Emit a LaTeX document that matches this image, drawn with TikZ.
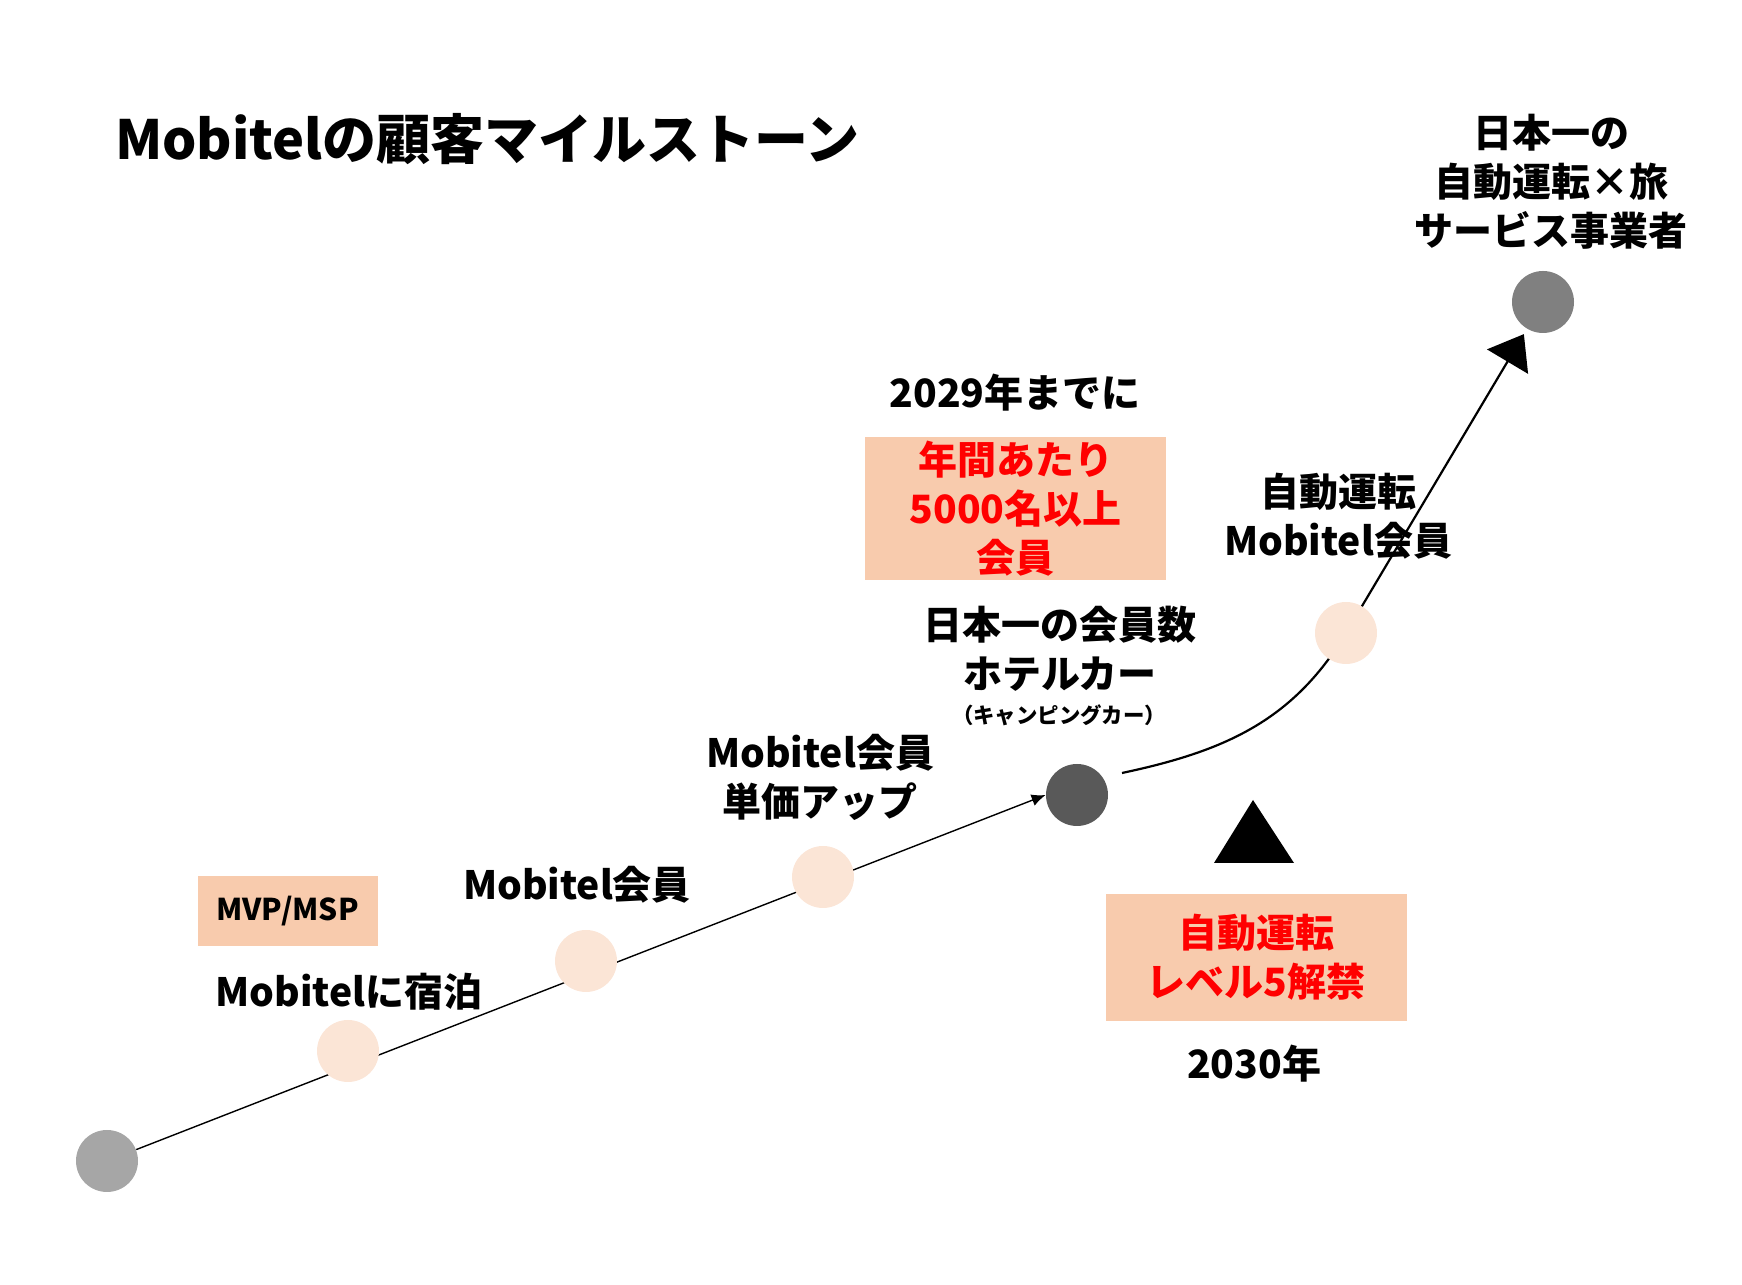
\documentclass[tikz,border=0pt]{standalone}
\usepackage{fontspec}
\setmainfont{Noto Sans CJK JP}
\usetikzlibrary{arrows.meta, calc, backgrounds}

\definecolor{boxpeach}{HTML}{F8CBAD}
\definecolor{dotpeach}{HTML}{FBE5D6}
\definecolor{dotlight}{HTML}{A6A6A6}
\definecolor{dotdark}{HTML}{595959}
\definecolor{dotmid}{HTML}{808080}

\begin{document}
\begin{tikzpicture}[x = 0.5pt, y = 0.5pt, every node/.style = {align = center, font = \bfseries},
	milestone/.style = {circle, draw = none, inner sep = 0pt, minimum size = 31pt},
	milelabel/.style = {font = \bfseries\fontsize{19.5}{24.5}\selectfont},
	goalbox/.style = {fill = boxpeach, text = red, inner sep = 0pt, font = \bfseries\fontsize{19.5}{24.5}\selectfont}]

	\useasboundingbox (0, 0) rectangle (1742, 1285);

	\node (TTL) at (108, 1146) [anchor = west, font = \bfseries\fontsize{27}{33}\selectfont] {Mobitelの顧客マイルストーン};

	% milestones
	\node (M0) at ( 107,  124) [milestone, fill = dotlight] {};
	\foreach \name/\px/\py in {M1/348/234, M2/586/324, M3/823/408, M5/1346/652}
		\node (\name) at (\px, \py) [milestone, fill = dotpeach] {};
	\node (M4) at (1077,  490) [milestone, fill = dotdark] {};
	\node (M6) at (1543,  983) [milestone, fill = dotmid] {};

	\node (L1)  at ( 349,  293) [milelabel] {Mobitelに宿泊};
	\node (L2)  at ( 577,  400) [milelabel] {Mobitel会員};
	\node (L3)  at ( 820,  508) [milelabel] {Mobitel会員\\単価アップ};
	\node (L4)  at (1060,  636) [milelabel] {日本一の会員数\\ホテルカー};
	\node (L4s) at (1059,  570) [font = \bfseries\fontsize{10.7}{13}\selectfont] {（キャンピングカー）};
	\node (L5)  at (1338,  769) [milelabel] {自動運転\\Mobitel会員};
	\node (L6)  at (1551, 1103) [milelabel] {日本一の\\自動運転×旅\\サービス事業者};
	\node (Y29) at (1015,  892) [milelabel] {2029年までに};
	\node (Y30) at (1254,  221) [milelabel] {2030年};

	\node (MVP)  at ( 287.5, 374)   [fill = boxpeach, inner sep = 0pt, minimum width = 90pt, minimum height = 35.2pt, font = \bfseries\fontsize{15}{18}\selectfont] {MVP/MSP};
	\node (GOAL) at (1015.5, 776.3) [goalbox, minimum width = 150.5pt, minimum height = 71.3pt] {年間あたり\\5000名以上\\会員};
	\node (LV5)  at (1256.3, 327.7) [goalbox, minimum width = 150.3pt, minimum height = 63.3pt] {自動運転\\レベル5解禁};

	\fill (1214, 422) -- (1294, 422) -- (1253, 485) -- cycle;

	\begin{scope}[on background layer]
		\draw [-{Latex[length = 7pt, width = 6pt]}, line width = 0.7pt] (M0) -- (M4.west);
		\draw [-{Triangle[length = 16pt, width = 23.7pt]}, line width = 1.1pt, shorten > = 3pt] ($(M4) + (45, 22)$) to [out = 12, in = 239] (M5.center) -- (M6);
	\end{scope}

\end{tikzpicture}
\end{document}
